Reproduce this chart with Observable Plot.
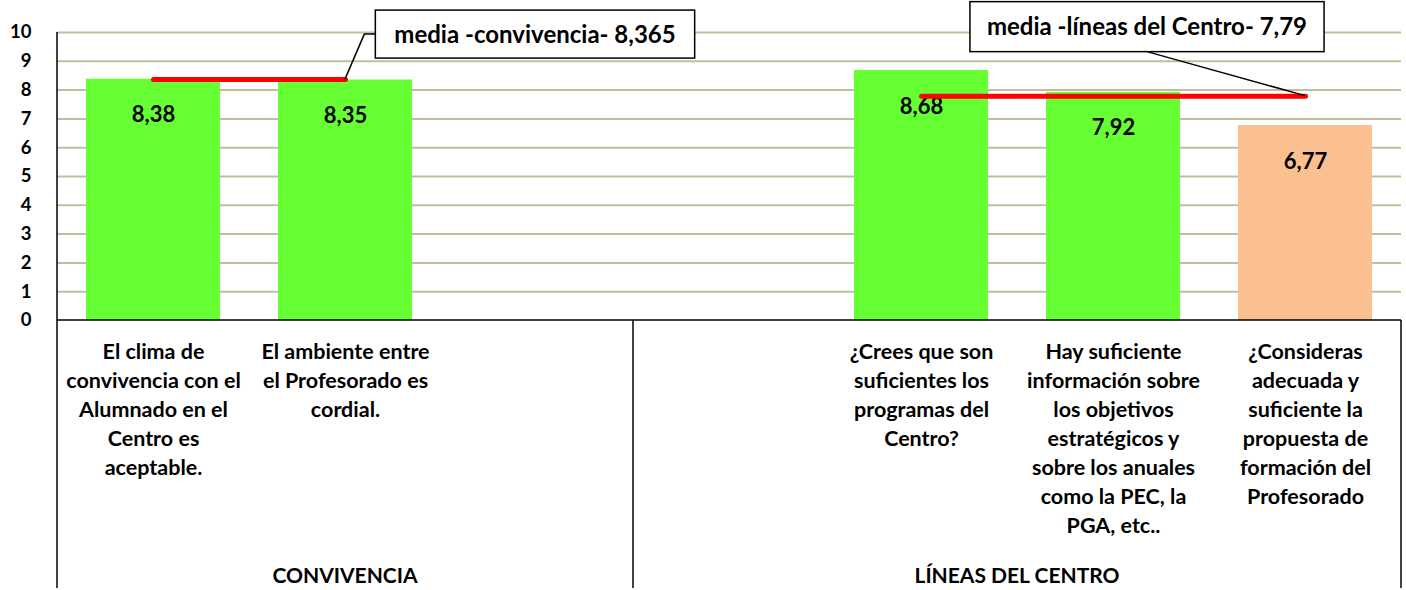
<!DOCTYPE html>
<html>
<head>
<meta charset="utf-8">
<script src="https://cdn.jsdelivr.net/npm/d3@7"></script>
<script src="https://cdn.jsdelivr.net/npm/@observablehq/plot@0.6"></script>
<style>
  html, body { margin: 0; padding: 0; background: #fff; }
  #chart svg { display: block; }
</style>
</head>
<body>
<div id="chart"></div>
<script>
// ---------- data ----------
const keys = ["c1", "c2", "gap1", "gap2", "l1", "l2", "l3"];
const questions = [
  "El clima de\nconvivencia con el\nAlumnado en el\nCentro es\naceptable.",
  "El ambiente entre\nel Profesorado es\ncordial.",
  "",
  "",
  "¿Crees que son\nsuficientes los\nprogramas del\nCentro?",
  "Hay suficiente\ninformación sobre\nlos objetivos\nestratégicos y\nsobre los anuales\ncomo la PEC, la\nPGA, etc..",
  "¿Consideras\nadecuada y\nsuficiente la\npropuesta de\nformación del\nProfesorado"
];
const values = [8.38, 8.35, null, null, 8.68, 7.92, 6.77];
const valueLabels = ["8,38", "8,35", "", "", "8,68", "7,92", "6,77"];
const groupOf = [0, 0, 0, 1, 1, 1, 1];
const groupNames = ["CONVIVENCIA", "LÍNEAS DEL CENTRO"];
const means = [8.365, 7.79];
const meanLabels = ["media -convivencia- 8,365", "media -líneas del Centro- 7,79"];
const meanFrom = ["c1", "l1"];
const meanTo = ["c2", "l3"];
const yTicks = [0, 1, 2, 3, 4, 5, 6, 7, 8, 9, 10];

// ---------- derived tables ----------
const rows = keys.map((key, i) => ({key, question: questions[i], value: values[i], label: valueLabels[i], group: groupOf[i]}));
const bars = rows.filter(d => d.value != null);
const meanPts = means.flatMap((m, i) => [
  {g: i, key: meanFrom[i], y: m},
  {g: i, key: meanTo[i], y: m}
]);

const FONT = "Lato, 'Open Sans', sans-serif";
const GREEN = "#66FF33", ORANGE = "#FAC090", GRID = "#C4BD97";
const CAT_SIZE = 21.5;

// frame lines in the category area and the group labels
function categoryFrame(index, scales, vals, dims) {
  const {x, y} = scales;
  const step = x.step(), bw = x.bandwidth();
  const slotLeft = k => x(k) - (step - bw) / 2;
  const y0 = y(0), yTop = y(10), bottom = dims.height - 2;
  const g = d3.create("svg:g");
  const lines = g.append("g").attr("stroke", "#000").attr("stroke-width", 1.5).attr("fill", "none");
  const first = slotLeft(keys[0]), last = slotLeft(keys[keys.length - 1]) + step;
  lines.append("line").attr("x1", first).attr("x2", last).attr("y1", y0).attr("y2", y0);
  groupNames.forEach((name, gi) => {
    const ks = keys.filter((k, j) => groupOf[j] === gi);
    const a = slotLeft(ks[0]), b = slotLeft(ks[ks.length - 1]) + step;
    lines.append("line").attr("x1", a).attr("x2", a).attr("y1", gi === 0 ? yTop : y0).attr("y2", bottom);
    if (gi === groupNames.length - 1)
      lines.append("line").attr("x1", b).attr("x2", b).attr("y1", y0).attr("y2", bottom);
    g.append("text")
      .attr("x", (a + b) / 2).attr("y", bottom - 5)
      .attr("text-anchor", "middle")
      .attr("font-family", FONT).attr("font-size", 21).attr("font-weight", "bold")
      .attr("fill", "#000")
      .text(name);
  });
  return g.node();
}

// callout boxes for the two means
const calloutLayout = [
  {dx: 190, dy: -45, pad: 19, h: 48, leader: "elbow"},
  {dx: -158, dy: -69, pad: 17, h: 50, leader: "bottom"}
];
function callouts(index, scales, vals, dims) {
  const {x, y} = scales;
  const bw = x.bandwidth();
  const ctx = document.createElement("canvas").getContext("2d");
  ctx.font = "bold 24px Lato";
  const g = d3.create("svg:g");
  calloutLayout.forEach((c, i) => {
    const ax = x(meanTo[i]) + bw / 2, ay = y(means[i]);
    const cx = ax + c.dx, cy = ay + c.dy;
    const w = ctx.measureText(meanLabels[i]).width + 2 * c.pad;
    const bx = cx - w / 2, by = cy - c.h / 2;
    const path = c.leader === "elbow"
      ? `M${ax},${ay}L${bx - 11},${cy}L${bx},${cy}`
      : `M${ax},${ay}L${cx},${by + c.h}`;
    g.append("path").attr("d", path).attr("fill", "none").attr("stroke", "#000").attr("stroke-width", 1.5);
    g.append("rect").attr("x", bx).attr("y", by).attr("width", w).attr("height", c.h)
      .attr("fill", "#fff").attr("stroke", "#000").attr("stroke-width", 1.5);
    g.append("text").attr("x", cx).attr("y", cy).attr("dy", "0.36em")
      .attr("text-anchor", "middle")
      .attr("font-family", FONT).attr("font-size", 24).attr("font-weight", "bold")
      .attr("fill", "#000")
      .text(meanLabels[i]);
  });
  return g.node();
}

const chart = Plot.plot({
  width: 1406,
  height: 590,
  marginLeft: 57,
  marginRight: 5,
  marginTop: 32,
  marginBottom: 270,
  style: {fontFamily: FONT, fontWeight: "bold", color: "#000", background: "#fff"},
  x: {type: "band", domain: keys, paddingInner: 0.3, paddingOuter: 0.15, axis: null},
  y: {domain: [0, 10], axis: null},
  color: {type: "identity"},
  marks: [
    Plot.ruleY(yTicks.filter(t => t > 0), {stroke: GRID, strokeWidth: 2}),
    Plot.barY(bars, {x: "key", y: "value", fill: d => d.value < 7 ? ORANGE : GREEN}),
    Plot.axisY({ticks: yTicks, tickSize: 0, tickPadding: 26, fontSize: 18.5, fontWeight: "bold", tickFormat: d => String(d), label: null}),
    Plot.text(bars, {x: "key", y: "value", text: "label", dy: 36, fontSize: 22, fontWeight: "bold", fill: "#000"}),
    Plot.text(rows, {x: "key", text: "question", frameAnchor: "bottom", lineAnchor: "top", dy: 18, lineHeight: 29 / CAT_SIZE, fontSize: CAT_SIZE, fontWeight: "bold", fill: "#000"}),
    categoryFrame,
    Plot.line(meanPts, {x: "key", y: "y", z: "g", stroke: "#FF0000", strokeWidth: 5, strokeLinecap: "round"}),
    callouts
  ]
});
document.getElementById("chart").appendChild(chart);
</script>
</body>
</html>
